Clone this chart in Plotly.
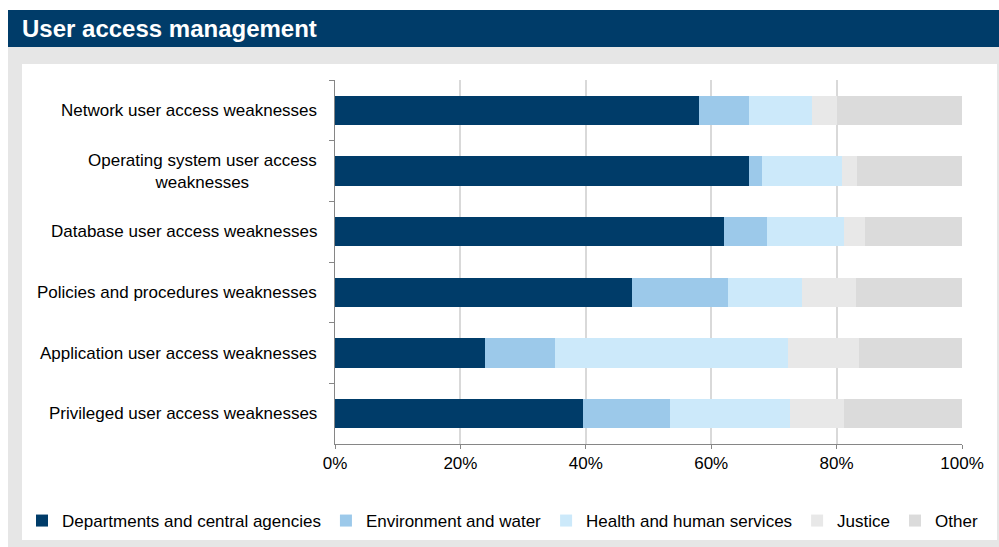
import plotly.graph_objects as go

# Categories (top to bottom) and share of weaknesses by agency group (%)
categories = [
    "Network user access weaknesses",
    "Operating system user access<br>weaknesses",
    "Database user access weaknesses",
    "Policies and procedures weaknesses",
    "Application user access weaknesses",
    "Privileged user access weaknesses",
]
departments = [58.0, 66.0, 62.0, 47.4, 24.0, 39.6]
environment = [8.0, 2.1, 6.9, 15.3, 11.1, 13.9]
health = [10.0, 12.8, 12.2, 11.8, 37.2, 19.0]
justice = [4.1, 2.3, 3.5, 8.6, 11.2, 8.6]
other = [19.9, 16.8, 15.4, 16.9, 16.5, 18.9]

series_names = [
    "Departments and central agencies",
    "Environment and water",
    "Health and human services",
    "Justice",
    "Other",
]
series_values = [departments, environment, health, justice, other]
series_colors = ["#003C69", "#9CC9EA", "#CCE9FA", "#E8E8E8", "#DBDBDB"]

x_ticks = [0, 20, 40, 60, 80, 100]

W, H = 999, 547
FONT = "Liberation Sans, Arial, sans-serif"


def px_x(p):
    return p / W


def px_y(p):
    return 1 - p / H


fig = go.Figure()
for name, vals, col in zip(series_names, series_values, series_colors):
    fig.add_trace(go.Bar(
        y=categories, x=vals, name=name, orientation="h",
        marker=dict(color=col, line=dict(width=0)),
        hoverinfo="name+x",
    ))

# Category labels as centred text blocks to the left of the axis
annotations = []
for cat in categories:
    annotations.append(dict(
        x=px_x(319), xref="paper", xanchor="right",
        y=cat, yref="y", yanchor="middle",
        text=cat, showarrow=False, align="center",
        font=dict(family=FONT, size=17, color="#000000"),
    ))

# Section header text
annotations.append(dict(
    x=px_x(20), xref="paper", xanchor="left",
    y=px_y(29), yref="paper", yanchor="middle",
    text="<b>User access management</b>", showarrow=False,
    font=dict(family=FONT, size=24, color="#FFFFFF"),
))

shapes = [
    # header band
    dict(type="rect", xref="paper", yref="paper", layer="below",
         x0=px_x(8), x1=1, y0=px_y(47), y1=px_y(10),
         fillcolor="#003C69", line=dict(width=0)),
    # grey panel
    dict(type="rect", xref="paper", yref="paper", layer="below",
         x0=px_x(8), x1=1, y0=0, y1=px_y(47),
         fillcolor="#E6E6E6", line=dict(width=0)),
    # white chart area
    dict(type="rect", xref="paper", yref="paper", layer="below",
         x0=px_x(22), x1=px_x(997), y0=px_y(540), y1=px_y(64),
         fillcolor="#FFFFFF", line=dict(width=0)),
]

fig.update_layout(
    width=W, height=H,
    margin=dict(l=0, r=0, t=0, b=0, autoexpand=False),
    paper_bgcolor="#FFFFFF",
    plot_bgcolor="rgba(0,0,0,0)",
    barmode="stack",
    bargap=0.52,
    font=dict(family=FONT, size=17, color="#000000"),
    xaxis=dict(
        domain=[px_x(335), px_x(962)],
        range=[0, 100],
        tickvals=x_ticks,
        ticktext=[f"{v}%" for v in x_ticks],
        showgrid=True, gridcolor="#D9D9D9", gridwidth=1.5,
        showline=True, linecolor="#868686", linewidth=1,
        ticks="outside", ticklen=4, tickcolor="#868686",
        tickfont=dict(family=FONT, size=17, color="#000000"),
        zeroline=False, fixedrange=True,
    ),
    yaxis=dict(
        domain=[px_y(444), px_y(80)],
        categoryorder="array", categoryarray=categories,
        autorange="reversed",
        showticklabels=False,
        showline=True, linecolor="#868686", linewidth=1,
        ticks="outside", ticklen=5, tickcolor="#868686",
        tickson="boundaries",
        showgrid=False, zeroline=False, fixedrange=True,
    ),
    legend=dict(
        orientation="h",
        x=px_x(22), xanchor="left",
        y=px_y(521), yanchor="middle",
        font=dict(family=FONT, size=17, color="#000000"),
        bgcolor="rgba(0,0,0,0)",
        traceorder="normal",
        itemwidth=30,
    ),
    annotations=annotations,
    shapes=shapes,
    showlegend=True,
)

fig.write_html("out.html")
